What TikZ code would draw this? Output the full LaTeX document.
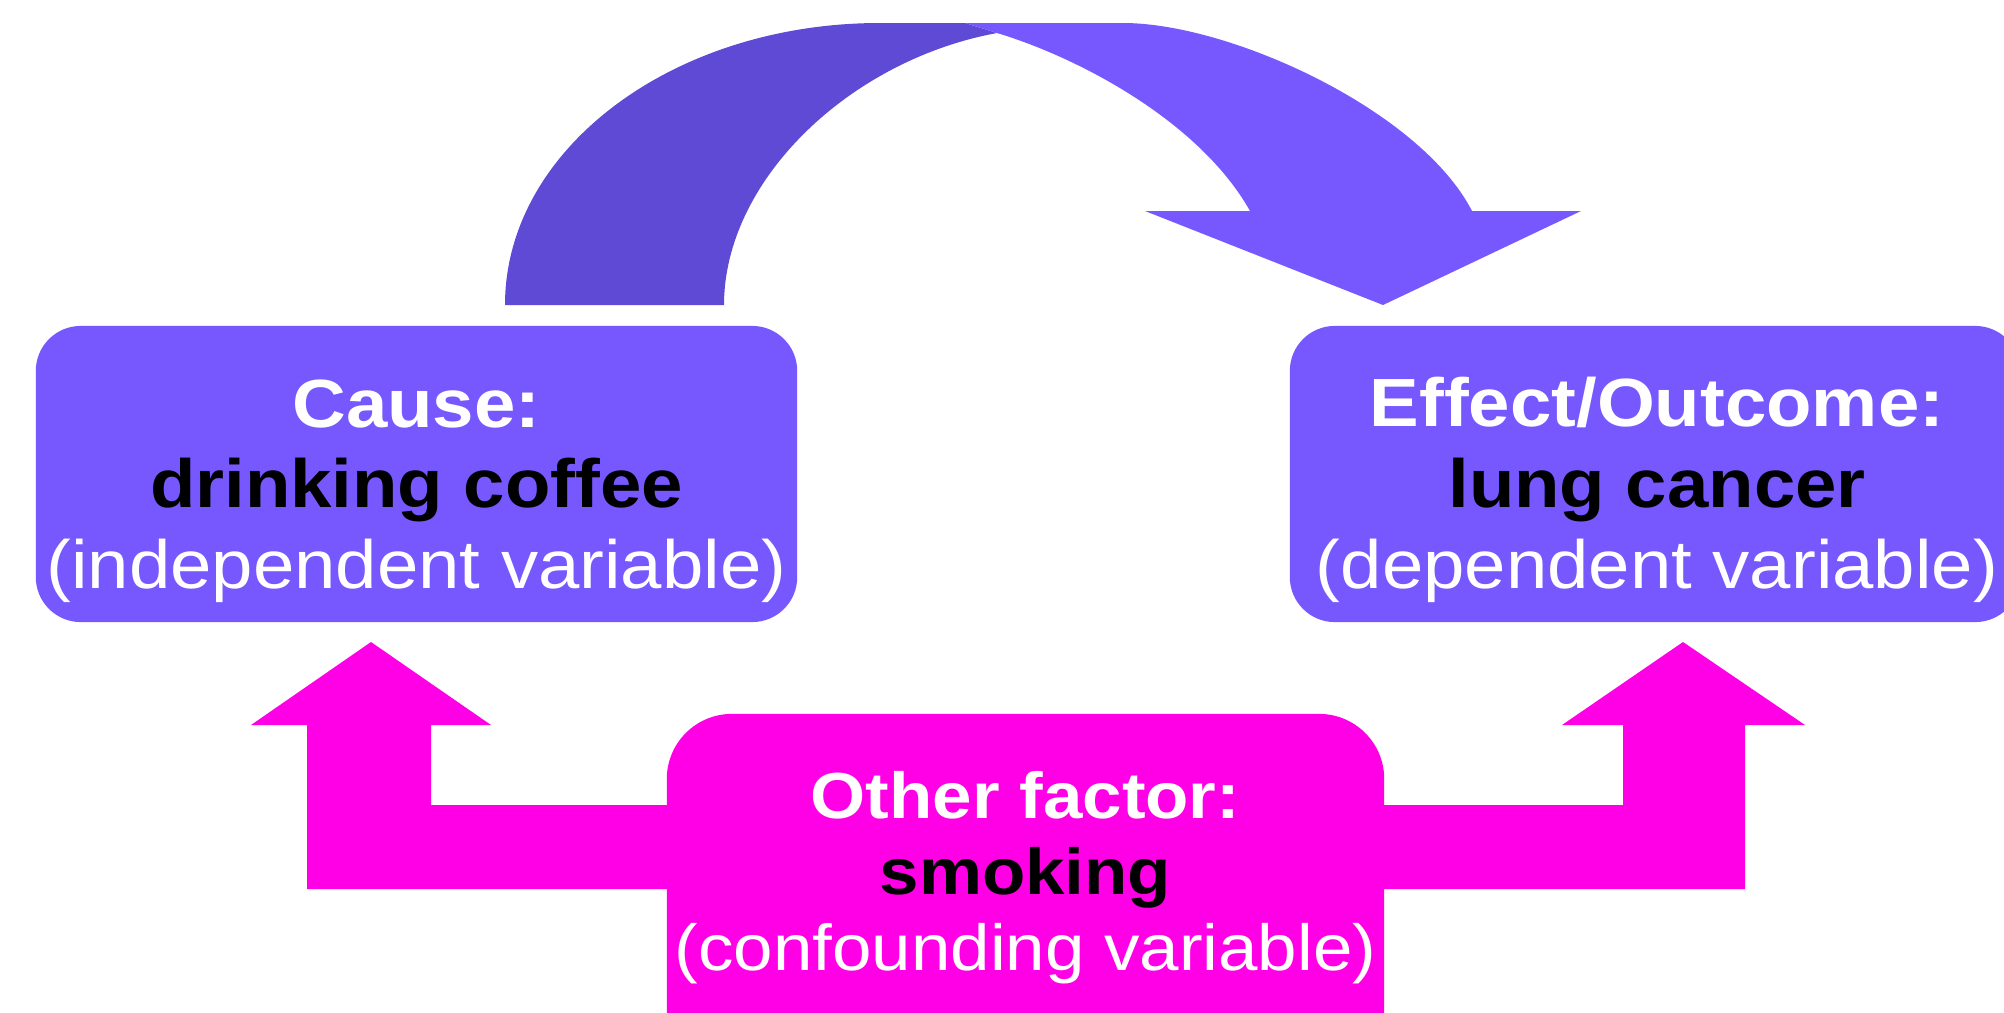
\documentclass[tikz,border=0pt]{standalone}
\usepackage{fontspec}
\setmainfont{Liberation Sans}[FakeStretch=1.09]
\definecolor{lav}{HTML}{7758FF}
\definecolor{lavdark}{HTML}{5F4AD6}
\definecolor{mag}{HTML}{FF00E6}
\begin{document}
\begin{tikzpicture}[x=0.01cm,y=-0.01cm,
  box/.style={fill=lav, rounded corners=0.45cm, inner sep=0pt, minimum height=2.96cm},
  pbox/.style={fill=mag, rounded corners=0.65cm, inner sep=0pt},
  lhead/.style={anchor=base, inner sep=0pt, text=white, font=\bfseries\fontsize{19.4}{23}\selectfont},
  lkey/.style={anchor=base, inner sep=0pt, text=black, font=\bfseries\fontsize{19.4}{23}\selectfont},
  lnote/.style={anchor=base, inner sep=0pt, text=white, font=\fontsize{19.4}{23}\selectfont},
  phead/.style={lhead, font=\bfseries\fontsize{18.5}{22}\selectfont},
  pkey/.style={lkey, font=\bfseries\fontsize{18.5}{22}\selectfont},
  pnote/.style={lnote, font=\fontsize{18.5}{22}\selectfont}]
\clip (0,0) rectangle (2004,1012);
\fill[white] (0,0) rectangle (2004,1012);

% curved arrow from cause to effect
\fill[lavdark] (505,305) .. controls (505,149) and (673,23) .. (880,23) -- (965,23) -- (997,33)
  .. controls (850,60) and (724,180) .. (724,305) -- cycle;
\fill[lav] (965,23) -- (1123,23) .. controls (1230,23) and (1420,110) .. (1472,211)
  -- (1581,211) -- (1383,305) -- (1145,211) -- (1250,211)
  .. controls (1200,122) and (1080,58) .. (997,33) -- cycle;

% confounder arrows
\fill[mag] (307,889) -- (307,725) -- (251,725) -- (371,642) -- (491,725) -- (431,725) -- (431,805)
  -- (1623,805) -- (1623,725) -- (1562,725) -- (1683,642) -- (1805,725) -- (1745,725) -- (1745,889) -- cycle;

% boxes
\node[box, minimum width=7.61cm] (cause) at (416.5,474) {};
\node[box, minimum width=7.30cm] (effect) at (1655,474) {};
\node[pbox, minimum width=7.17cm, minimum height=3.66cm] (other) at (1025.5,897) {};

% texts
\node[lhead] (causeA) at (416.5,427) {Cause:};
\node[lkey]  (causeB) at (416.5,507) {drinking coffee};
\node[lnote] (causeC) at (416.5,588) {(independent variable)};

\node[lhead] (effectA) at (1657,426) {Effect/Outcome:};
\node[lkey]  (effectB) at (1657,507) {lung cancer};
\node[lnote] (effectC) at (1657,588) {(dependent variable)};

\node[phead] (otherA) at (1025.5,818) {Other factor:};
\node[pkey]  (otherB) at (1025.5,894) {smoking};
\node[pnote] (otherC) at (1025.5,970) {(confounding variable)};
\end{tikzpicture}
\end{document}
